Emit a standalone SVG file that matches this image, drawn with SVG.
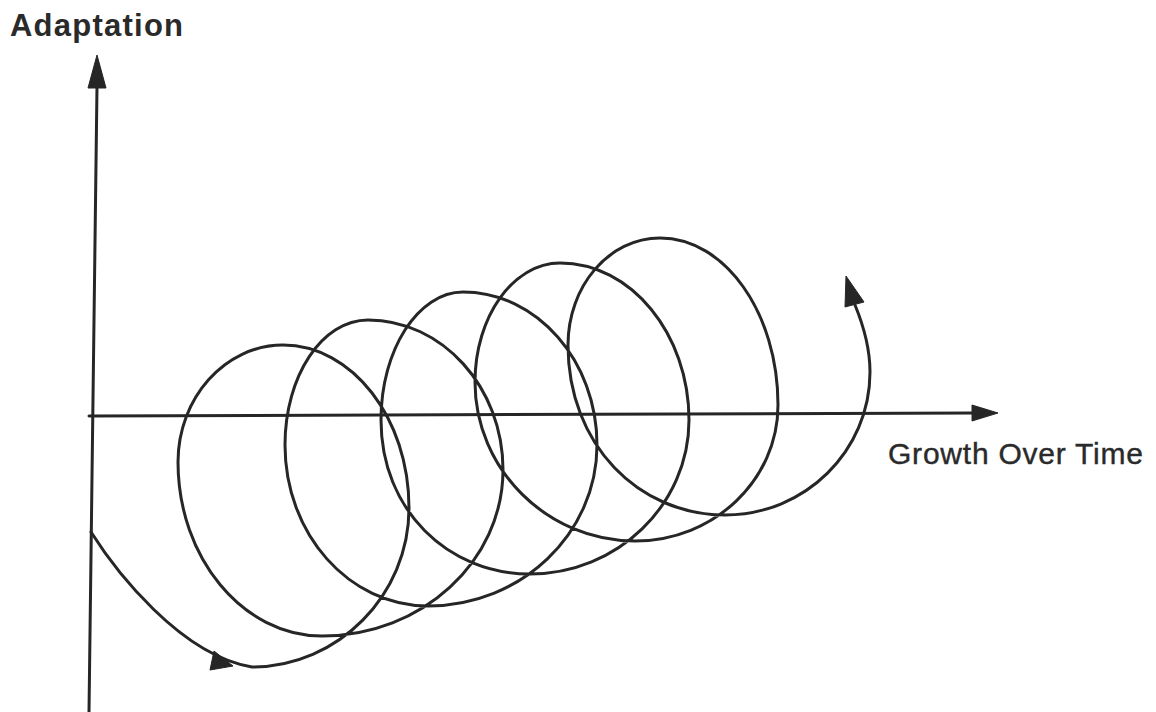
<svg xmlns="http://www.w3.org/2000/svg" width="1156" height="712" viewBox="0 0 1156 712">
<defs>
<style>
.ln{fill:none;stroke:#262626;stroke-width:3;stroke-linecap:round;stroke-linejoin:round}
.ah{fill:#262626;stroke:#262626;stroke-width:1;stroke-linejoin:round}
.lbl{font-family:"Liberation Sans",Arial,sans-serif;fill:#2a2a2a}
</style>
</defs>
<rect x="0" y="0" width="1156" height="712" fill="#ffffff"/>
<g id="labels">
<text id="label-y" class="lbl" x="10" y="36" font-size="31" font-weight="bold" textLength="173" lengthAdjust="spacing">Adaptation</text>
<text id="label-x" class="lbl" x="888" y="464" font-size="30" stroke="#2a2a2a" stroke-width="0.4" textLength="255" lengthAdjust="spacing">Growth Over Time</text>
</g>
<g id="axes">
<path class="ln" d="M89,712 L97,86"/>
<polygon class="ah" points="97,55 88,88 106,88"/>
<path class="ln" d="M89,416 L975,413"/>
<polygon class="ah" points="998,413 972,405 972,421"/>
</g>
<g id="connectors">
<path id="coil" class="ln" d="M91,532 C115,570 180,655 252,667
C338,667 409,595 409,508
C409,418 352,345 283,345
C225,345 178,398 178,462
C178,558 243,636 322,636
C422,636 503,561 503,470
C503,387 442,320 368,320
C322,320 285,376 285,445
C285,534 349,606 428,606
C521,606 597,534 597,445
C597,361 537,292 463,292
C418,292 381,350 381,420
C381,510 448,574 530,574
C617,574 689,505 689,420
C689,334 631,263 560,263
C513,263 475,317 475,382
C475,469 547,541 635,541
C714,541 778,480 778,405
C778,313 725,238 660,238
C609,238 568,286 568,345
C568,445 639,515 725,515
C805,515 870,451 870,372
C870,345 862,322 855,305"/>
<polygon class="ah" points="233,666 214,651 210,670"/>
<polygon class="ah" points="846,276 845,307 864,302"/>
</g>
</svg>
